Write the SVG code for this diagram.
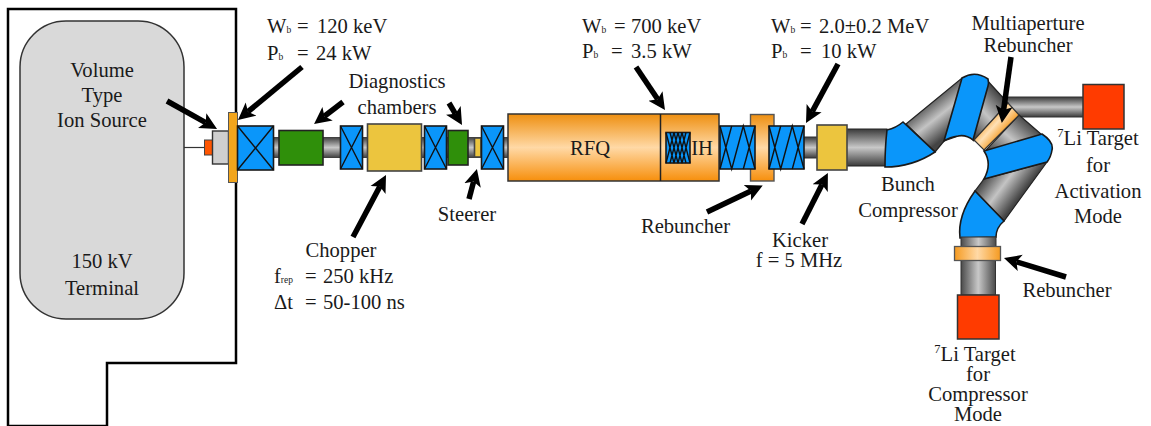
<svg xmlns="http://www.w3.org/2000/svg" width="1151" height="426" viewBox="0 0 1151 426">
<style>
text{font-family:"Liberation Serif","Times New Roman",serif;font-size:20.6px;fill:#1a1a1a;text-anchor:middle}
.s{font-size:9.500px}
.u{font-size:12.500px}
.l{text-anchor:start}
.blue{fill:#0a96fa;stroke:#1a1a1a;stroke-width:1.6}
.x{fill:none;stroke:#111;stroke-width:1.4}
.green{fill:#2f8f0a;stroke:#222;stroke-width:1.6}
.yellow{fill:#ecc53e;stroke:#444;stroke-width:1.6}
.red{fill:#ff3b00;stroke:#333;stroke-width:1.5}
.arrow{stroke:#000;stroke-width:5.500;fill:none;marker-end:url(#head)}
</style>
<defs>
<marker id="head" markerUnits="userSpaceOnUse" markerWidth="24" markerHeight="20" refX="4" refY="10" orient="auto"><path d="M0,1.500L17,10L0,18.500L4,10Z" fill="#000"/></marker>
<linearGradient id="pipe" x1="0" y1="0" x2="0" y2="1"><stop offset="0" stop-color="#3a3a3a"/><stop offset=".5" stop-color="#c8c8c8"/><stop offset="1" stop-color="#3a3a3a"/></linearGradient>
<linearGradient id="pipeV" x1="0" y1="0" x2="1" y2="0"><stop offset="0" stop-color="#4a4a4a"/><stop offset=".5" stop-color="#c8c8c8"/><stop offset="1" stop-color="#4a4a4a"/></linearGradient>
<linearGradient id="org" x1="0" y1="0" x2="0" y2="1"><stop offset="0" stop-color="#ee8f10"/><stop offset=".5" stop-color="#ffd9a6"/><stop offset="1" stop-color="#f78f0c"/></linearGradient>
<linearGradient id="orgH" x1="0" y1="0" x2="1" y2="0"><stop offset="0" stop-color="#f59a20"/><stop offset=".5" stop-color="#ffd9a6"/><stop offset="1" stop-color="#f59a20"/></linearGradient>
<linearGradient id="g1" gradientUnits="userSpaceOnUse" x1="920" y1="105" x2="945" y2="137"><stop offset="0" stop-color="#444"/><stop offset=".5" stop-color="#c4c4c4"/><stop offset="1" stop-color="#444"/></linearGradient>
<linearGradient id="g2" gradientUnits="userSpaceOnUse" x1="1005" y1="100" x2="970" y2="132"><stop offset="0" stop-color="#444"/><stop offset=".5" stop-color="#c4c4c4"/><stop offset="1" stop-color="#444"/></linearGradient>
<linearGradient id="g3" gradientUnits="userSpaceOnUse" x1="1019" y1="113" x2="987" y2="150"><stop offset="0" stop-color="#444"/><stop offset=".5" stop-color="#c4c4c4"/><stop offset="1" stop-color="#444"/></linearGradient>
<linearGradient id="g4" gradientUnits="userSpaceOnUse" x1="1024" y1="191" x2="992" y2="167"><stop offset="0" stop-color="#444"/><stop offset=".5" stop-color="#c4c4c4"/><stop offset="1" stop-color="#444"/></linearGradient>
<linearGradient id="oa" gradientUnits="userSpaceOnUse" x1="985" y1="117" x2="1004" y2="134"><stop offset="0" stop-color="#f59a20"/><stop offset=".5" stop-color="#ffe0b5"/><stop offset="1" stop-color="#f59a20"/></linearGradient>
</defs>

<g id="terminal"><path d="M8,9H236V363H107V426H8Z" fill="#fff" stroke="#000" stroke-width="2.500"/></g>
<g id="ion-source"><rect x="20" y="21" width="164" height="298" rx="46" fill="#d9d9d9" stroke="#333" stroke-width="1.500"/>
<text x="102" y="77">Volume</text><text x="102" y="102">Type</text><text x="102" y="127">Ion Source</text>
<text x="102" y="268">150 kV</text><text x="102" y="295">Terminal</text></g>

<g id="beamline-pipes">
<path d="M184,147.500H204" stroke="#333" stroke-width="1.200"/>
<rect x="270" y="137" width="240" height="21" fill="url(#pipe)"/>
<rect x="800" y="137" width="20" height="21" fill="url(#pipe)" stroke="#333"/>
<rect x="845" y="129" width="42" height="37" fill="url(#pipe)" stroke="#222"/>
<rect x="1000" y="97" width="84" height="20" fill="url(#pipe)" stroke="#333"/>
</g>
<g id="source-extraction">
<rect x="204.500" y="140" width="8" height="15" fill="#ff5500" stroke="#444"/>
<rect x="212.500" y="131" width="16" height="33" fill="#cfcfcf" stroke="#333" stroke-width="1.400"/>
<rect x="228.500" y="112.500" width="9" height="70" fill="#f2a51c" stroke="#555"/>
</g>
<g id="solenoid-1"><rect class="blue" x="237.500" y="126" width="36" height="44"/><path class="x" d="M237.500,126L273.500,170M273.500,126L237.500,170"/></g>
<g id="diag-1"><rect class="green" x="279" y="130.500" width="44" height="34.500"/></g>
<g id="solenoid-2"><rect class="blue" x="340.500" y="126" width="22" height="43"/><path class="x" d="M340.500,126L362.500,169M362.500,126L340.500,169"/></g>
<g id="chopper"><rect class="yellow" x="367.500" y="124" width="54" height="47"/></g>
<g id="solenoid-3"><rect class="blue" x="424.500" y="126" width="22" height="43"/><path class="x" d="M424.500,126L446.500,169M446.500,126L424.500,169"/></g>
<g id="diag-2"><rect class="green" x="448" y="130.500" width="20" height="34.500"/></g>
<g id="steerer"><rect class="yellow" x="474.500" y="138" width="6.500" height="19"/></g>
<g id="solenoid-4"><rect class="blue" x="481.500" y="126" width="22" height="43"/><path class="x" d="M481.500,126L503.500,169M503.500,126L481.500,169"/></g>

<g id="rfq-ih"><rect x="508" y="114" width="211" height="67" fill="url(#org)" stroke="#333" stroke-width="1.500"/>
<path d="M660.500,114V181" stroke="#222" stroke-width="1.500"/>
<text x="590" y="155">RFQ</text><text x="702" y="155">IH</text>
<rect class="blue" x="666" y="132.500" width="24" height="30.500"/>
<path class="x" d="M666,132.500L674,163M674,132.500L666,163M674,132.500L682,163M682,132.500L674,163M682,132.500L690,163M690,132.500L682,163M670,132.500L678,163M678,132.500L670,163M678,132.500L686,163M686,132.500L678,163"/></g>
<g id="rebuncher-1"><rect x="750.500" y="114.500" width="23.500" height="66.500" fill="url(#org)" stroke="#555" stroke-width="1.400"/></g>
<g id="solenoid-5"><rect class="blue" x="720" y="126" width="35" height="43"/><path class="x" d="M720,126L731.700,169L743.300,126L755,169M731.700,126L720,169M743.300,126L731.700,169M755,126L743.300,169"/></g>
<g id="solenoid-6"><rect class="blue" x="769" y="126" width="35" height="43"/><path class="x" d="M769,126L780.700,169L792.300,126L804,169M780.700,126L769,169M792.300,126L780.700,169M804,126L792.300,169"/></g>
<g id="kicker"><rect class="yellow" x="817" y="125" width="30" height="45"/></g>

<g id="bunch-compressor">
<path d="M906,124L962,78L958,136L944,141L935,152Z" fill="url(#g1)" stroke="#222" stroke-width="1.200"/>
<path d="M985,78L1008,103L974,141L968,135Z" fill="url(#g2)" stroke="#222" stroke-width="1.200"/>
<path d="M1019,115L1042,135L1000,160L985,151Z" fill="url(#g3)" stroke="#222" stroke-width="1.200"/>
<path d="M1047,162L1004,221L975,191L984,179Z" fill="url(#g4)" stroke="#222" stroke-width="1.200"/>
<path id="multiaperture" d="M1008,103L1019,115L984,150L974,140Z" fill="url(#oa)" stroke="#333" stroke-width="1.200"/>
<path class="blue" d="M887,130Q896,128 903,122L935,152C920,162 905,167 885,167Q885,147 887,130Z"/>
<path class="blue" d="M962,78Q975,70 988,79Q989,83 988,86L973,140C968,136 963,135 958,136Q950,137 944,141Z"/>
<path class="blue" d="M984,151L1042,134Q1054,142 1052,150Q1051,157 1047,162L984,179C989,170 990,160 984,151Z"/>
<path class="blue" d="M975,191L1004,221C998,226 996,231 996,237L960,238C958,222 965,205 975,191Z"/>
</g>
<g id="target-activation"><rect class="red" x="1083" y="84.500" width="41" height="44.500"/></g>
<g id="target-compressor">
<rect x="961" y="237" width="35" height="10" fill="url(#pipeV)" stroke="#333"/>
<rect x="961" y="260" width="34.500" height="35" fill="url(#pipeV)" stroke="#333"/>
<rect x="954.500" y="246.500" width="46" height="14" fill="url(#orgH)" stroke="#555" stroke-width="1.300"/>
<rect class="red" x="957.500" y="295" width="41.500" height="44"/>
</g>

<g id="connectors">
<path class="arrow" d="M167,101L205.700,122.600"/>
<path class="arrow" d="M302,67L248,111.700"/>
<path class="arrow" d="M343,102L324.400,116.200"/>
<path class="arrow" d="M449,103L455.400,113.800"/>
<path class="arrow" d="M353,237L379.900,186.400"/>
<path class="arrow" d="M469,199L473.600,181.600"/>
<path class="arrow" d="M636,67L657.700,99.200"/>
<path class="arrow" d="M838,64L812.200,111.600"/>
<path class="arrow" d="M707,212L751,191"/>
<path class="arrow" d="M802,224L822,184.600"/>
<path class="arrow" d="M1011,57L1003.600,110"/>
<path class="arrow" d="M1066,277L1016.400,261.800"/>
</g>

<g id="labels">
<text class="l" y="33"><tspan x="267">W</tspan><tspan class="s">b</tspan><tspan x="297">=</tspan><tspan x="317">120 keV</tspan></text>
<text class="l" y="60"><tspan x="267">P</tspan><tspan class="s">b</tspan><tspan x="297">=</tspan><tspan x="316">24 kW</tspan></text>
<text x="397" y="88">Diagnostics</text><text x="397" y="114">chambers</text>
<text class="l" y="33"><tspan x="582">W</tspan><tspan class="s">b</tspan><tspan x="614">=</tspan><tspan x="631">700 keV</tspan></text>
<text class="l" y="58"><tspan x="582">P</tspan><tspan class="s">b</tspan><tspan x="611">=</tspan><tspan x="631">3.5 kW</tspan></text>
<text class="l" y="33"><tspan x="771">W</tspan><tspan class="s">b</tspan><tspan x="800">=</tspan><tspan x="819">2.0±0.2 MeV</tspan></text>
<text class="l" y="58"><tspan x="771">P</tspan><tspan class="s">b</tspan><tspan x="800">=</tspan><tspan x="821">10 kW</tspan></text>
<text x="1028" y="30">Multiaperture</text><text x="1028" y="52">Rebuncher</text>
<text x="467" y="221">Steerer</text>
<text x="341" y="257">Chopper</text>
<text class="l" y="283"><tspan x="274">f</tspan><tspan class="s">rep</tspan><tspan x="305">=</tspan><tspan x="323">250 kHz</tspan></text>
<text class="l" y="309"><tspan x="274">Δt</tspan><tspan x="305">=</tspan><tspan x="323">50-100 ns</tspan></text>
<text x="685.500" y="233">Rebuncher</text>
<text x="800" y="247">Kicker</text><text x="799" y="267">f = 5 MHz</text>
<text x="908" y="191">Bunch</text><text x="908" y="217">Compressor</text>
<text x="1098" y="145"><tspan class="u" dy="-8">7</tspan><tspan dy="8">Li Target</tspan></text>
<text x="1098" y="172">for</text><text x="1098" y="198">Activation</text><text x="1098" y="223">Mode</text>
<text x="1067" y="297">Rebuncher</text>
<text x="975" y="361"><tspan class="u" dy="-8">7</tspan><tspan dy="8">Li Target</tspan></text>
<text x="978" y="381">for</text><text x="978" y="401">Compressor</text><text x="978" y="421">Mode</text>
</g>
</svg>
